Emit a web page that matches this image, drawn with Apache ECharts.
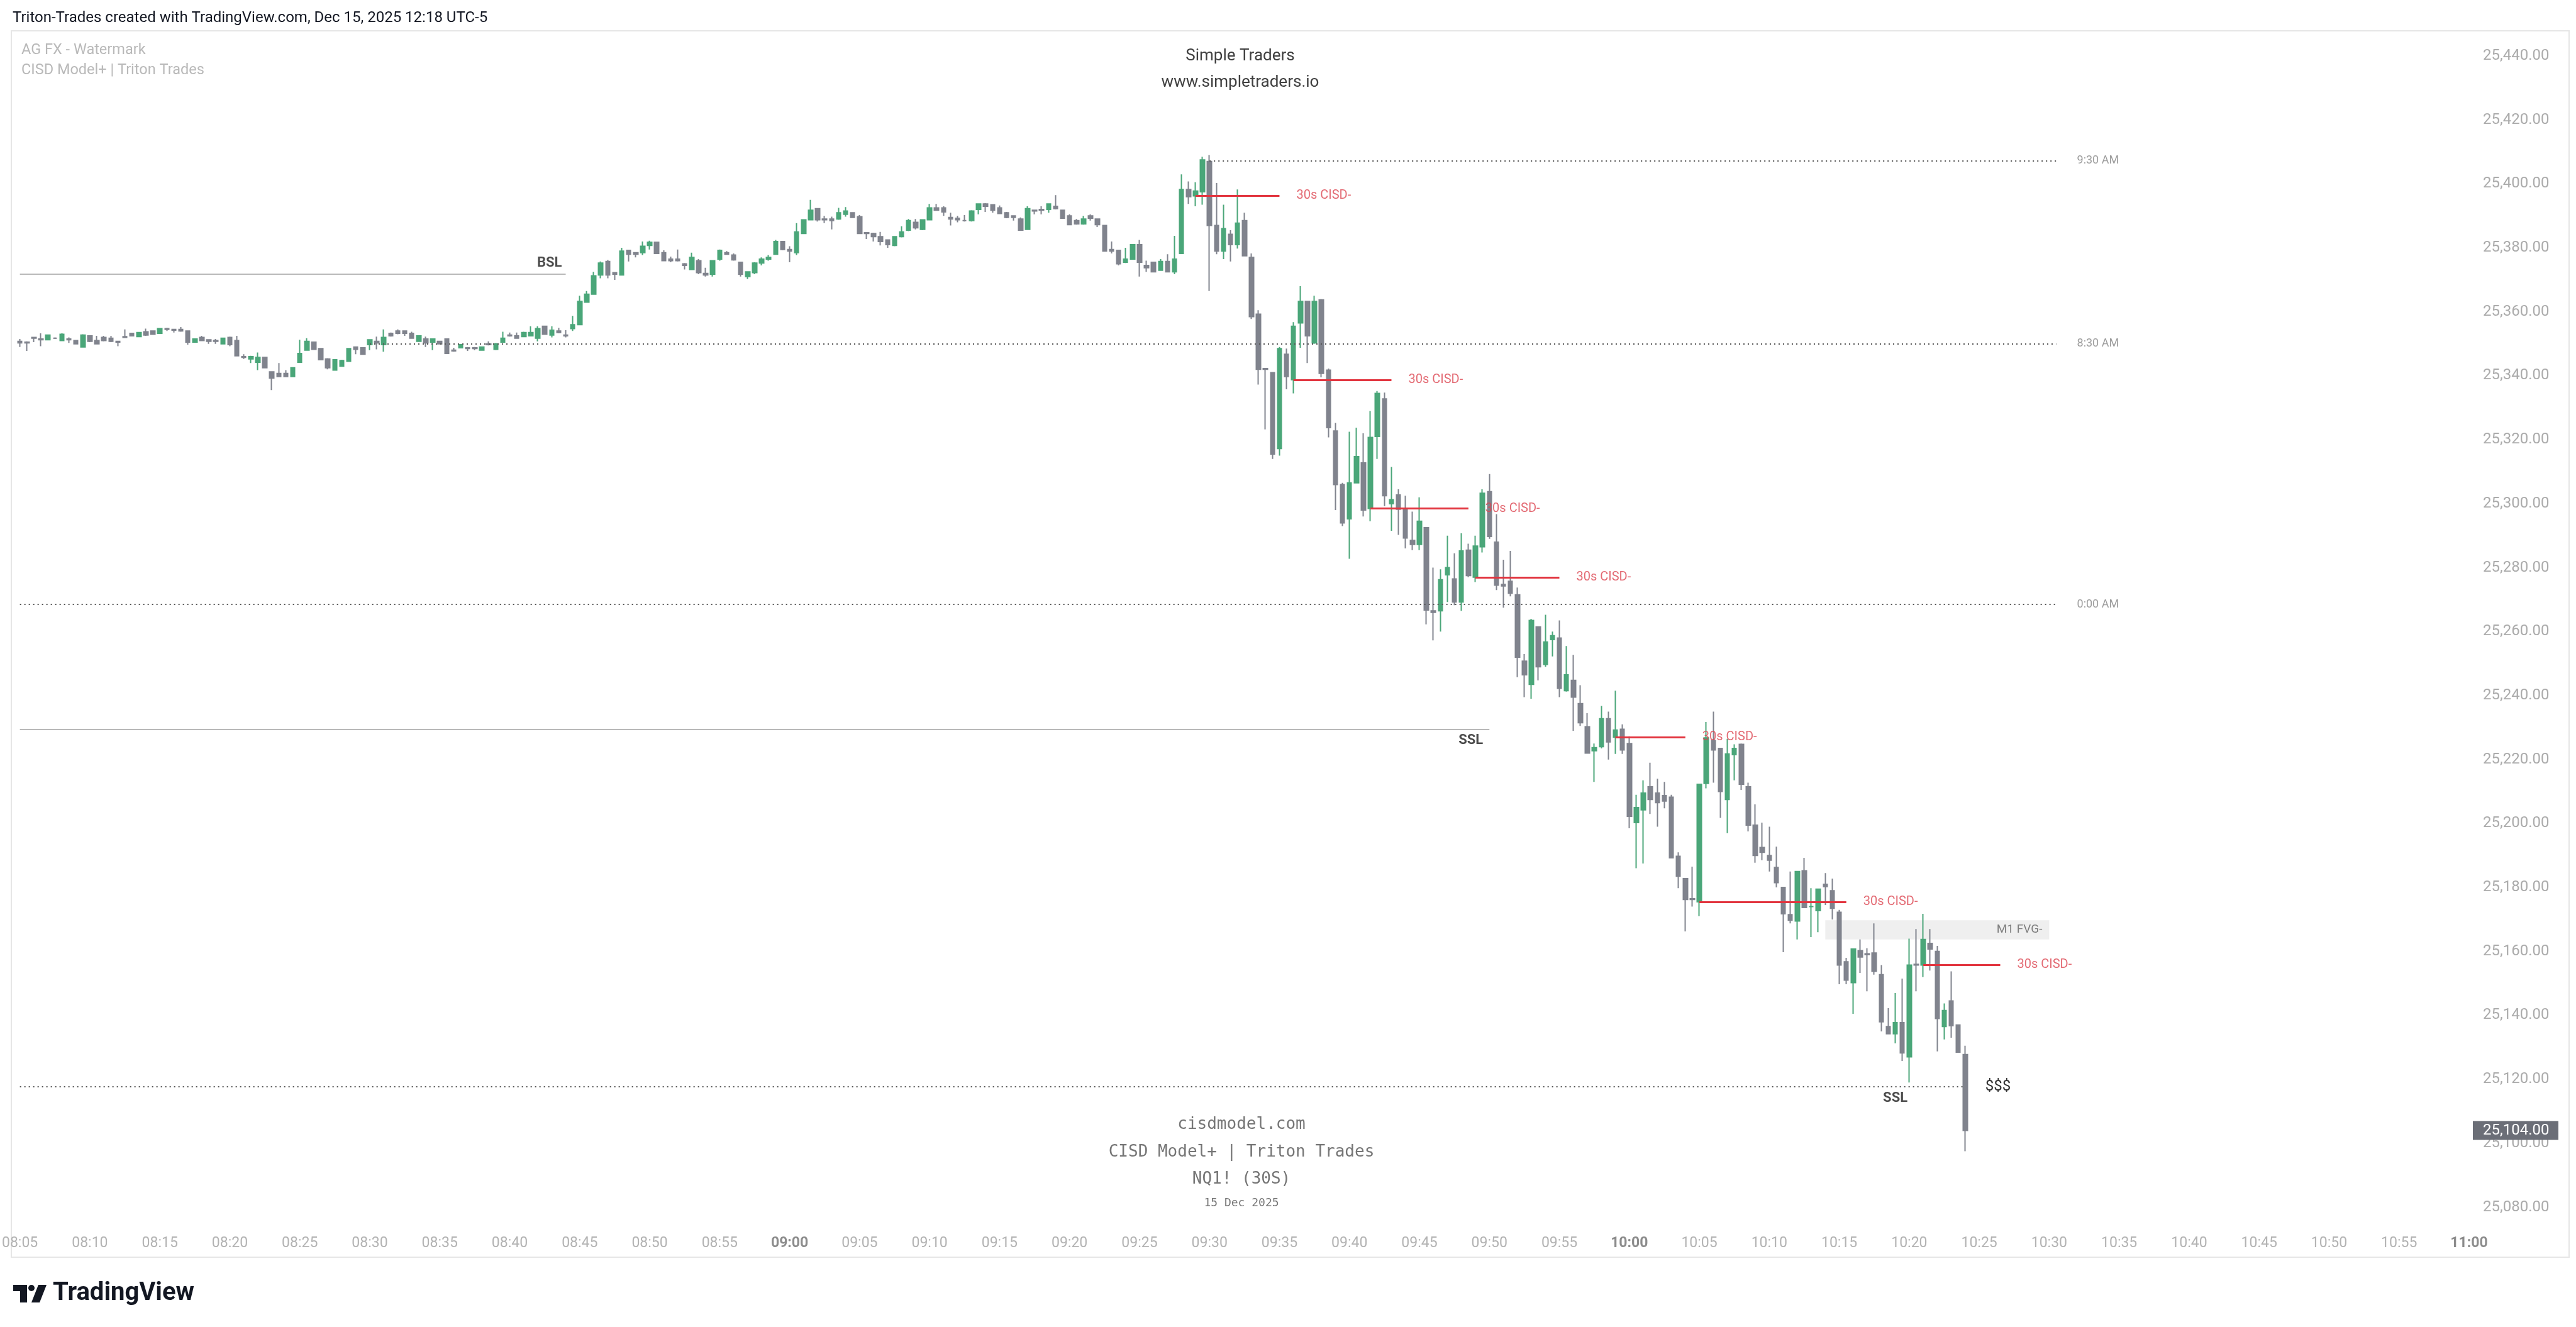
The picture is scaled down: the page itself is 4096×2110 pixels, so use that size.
<!DOCTYPE html>
<html>
<head>
<meta charset="utf-8">
<title>NQ1! (30S) - CISD Model+</title>
<script src="https://cdn.jsdelivr.net/npm/echarts@6/dist/echarts.min.js"></script>
<style>
  html, body { margin: 0; padding: 0; background: #fff; }
  #chart { width: 4096px; height: 2110px; }
</style>
</head>
<body>
<div id="chart"></div>
<script>
// 30s candles, 08:05:00 -> 10:24:00
const opens = [
  25350.75, 25350.5, 25352.0, 25351.5, 25351.25, 25351.75, 25351.0, 25351.5, 25351.0, 25349.0,
  25352.5, 25351.0, 25352.0, 25351.75, 25350.75, 25352.25, 25353.25, 25352.25, 25353.75, 25354.0,
  25353.25, 25354.75, 25354.5, 25354.5, 25354.0, 25350.5, 25352.0, 25351.25, 25351.0, 25350.0,
  25352.0, 25351.0, 25346.0, 25345.25, 25344.25, 25345.75, 25341.25, 25340.75, 25340.75, 25339.75,
  25344.25, 25348.0, 25350.5, 25348.5, 25345.25, 25341.75, 25343.0, 25344.5, 25349.0, 25348.75,
  25349.75, 25350.75, 25349.75, 25353.25, 25354.0, 25354.0, 25353.25, 25350.75, 25351.5, 25350.5,
  25350.75, 25351.5, 25348.0, 25348.75, 25348.75, 25348.75, 25348.0, 25350.0, 25348.25, 25350.5,
  25352.75, 25352.5, 25352.25, 25352.5, 25351.75, 25355.5, 25352.75, 25354.0, 25352.75, 25354.75,
  25356.0, 25363.0, 25365.5, 25371.5, 25375.75, 25372.25, 25371.5, 25379.25, 25378.5, 25378.5,
  25380.75, 25381.75, 25378.5, 25376.5, 25376.5, 25375.0, 25373.25, 25376.0, 25372.0, 25371.75,
  25376.5, 25378.5, 25377.75, 25375.5, 25371.0, 25372.25, 25375.25, 25376.5, 25378.0, 25382.0,
  25379.5, 25378.5, 25384.5, 25388.75, 25392.25, 25389.0, 25389.0, 25389.0, 25390.5, 25391.0,
  25389.75, 25384.75, 25384.5, 25383.5, 25382.5, 25380.75, 25383.5, 25385.5, 25388.0, 25385.75,
  25388.75, 25392.5, 25392.5, 25389.5, 25389.25, 25388.5, 25388.5, 25392.0, 25393.75, 25393.5,
  25392.5, 25391.0, 25390.0, 25389.0, 25385.75, 25391.75, 25392.0, 25392.0, 25393.0, 25391.75,
  25390.0, 25388.5, 25387.5, 25390.0, 25389.0, 25387.0, 25379.5, 25379.25, 25375.5, 25376.5,
  25381.0, 25374.5, 25375.5, 25373.0, 25375.75, 25372.5, 25378.25, 25398.25, 25396.25, 25397.5,
  25407.0, 25387.0, 25379.0, 25384.25, 25381.0, 25388.5, 25377.0, 25359.25, 25342.25, 25341.0,
  25317.25, 25346.75, 25338.75, 25356.5, 25363.25, 25350.25, 25363.75, 25341.75, 25322.75, 25306.0,
  25295.25, 25306.5, 25312.75, 25298.5, 25321.0, 25332.75, 25300.0, 25302.75, 25298.5, 25288.5,
  25287.25, 25292.5, 25266.5, 25266.5, 25277.75, 25276.5, 25269.25, 25285.5, 25277.0, 25286.5,
  25303.75, 25288.0, 25274.75, 25275.75, 25271.5, 25250.75, 25243.5, 25261.5, 25249.75, 25257.5,
  25258.0, 25241.5, 25244.75, 25237.5, 25230.25, 25222.75, 25224.0, 25232.75, 25227.0, 25229.5,
  25225.0, 25200.25, 25204.25, 25211.5, 25209.5, 25208.75, 25208.25, 25189.75, 25182.75, 25176.5,
  25175.5, 25212.5, 25226.0, 25223.5, 25207.5, 25221.5, 25224.75, 25211.5, 25199.5, 25192.5,
  25190.0, 25186.25, 25180.0, 25171.5, 25169.5, 25185.25, 25174.0, 25172.75, 25181.0, 25179.0,
  25172.25, 25156.75, 25150.25, 25160.25, 25159.25, 25159.5, 25152.75, 25136.5, 25134.25, 25137.75,
  25127.0, 25156.0, 25155.75, 25162.5, 25160.0, 25136.5, 25144.5, 25137.0, 25127.75
];
const highs = [
  25351.5, 25350.75, 25352.0, 25353.25, 25352.75, 25352.0, 25353.25, 25352.0, 25351.0, 25353.0,
  25352.5, 25352.5, 25352.5, 25352.5, 25350.75, 25354.5, 25353.25, 25353.5, 25354.75, 25354.0,
  25354.75, 25355.0, 25354.5, 25355.25, 25354.0, 25351.5, 25352.5, 25351.25, 25351.5, 25351.75,
  25352.25, 25352.5, 25346.75, 25346.25, 25347.25, 25345.75, 25341.25, 25344.0, 25341.75, 25342.5,
  25351.25, 25351.75, 25350.5, 25348.5, 25345.5, 25345.0, 25345.0, 25348.5, 25349.0, 25348.75,
  25351.25, 25352.25, 25354.5, 25353.5, 25354.5, 25354.0, 25353.75, 25352.5, 25352.25, 25351.5,
  25350.75, 25351.5, 25348.75, 25349.75, 25349.0, 25349.0, 25349.0, 25350.75, 25350.25, 25353.75,
  25353.5, 25353.5, 25353.75, 25355.5, 25355.5, 25355.5, 25355.5, 25355.0, 25354.25, 25358.75,
  25365.0, 25366.5, 25372.5, 25375.75, 25376.25, 25372.25, 25380.0, 25379.25, 25378.5, 25382.0,
  25382.25, 25381.75, 25379.25, 25377.25, 25379.5, 25375.25, 25378.5, 25376.5, 25373.75, 25376.0,
  25379.5, 25379.0, 25378.25, 25375.5, 25372.5, 25375.5, 25377.0, 25377.75, 25382.5, 25382.0,
  25380.5, 25387.75, 25388.75, 25395.0, 25392.25, 25390.0, 25389.75, 25392.5, 25392.75, 25391.0,
  25390.25, 25384.75, 25384.75, 25385.0, 25382.5, 25383.5, 25386.75, 25389.0, 25389.0, 25388.75,
  25393.75, 25393.75, 25393.0, 25391.0, 25390.0, 25390.25, 25391.75, 25393.75, 25394.0, 25393.5,
  25393.25, 25391.25, 25390.0, 25389.5, 25393.0, 25391.75, 25393.0, 25393.75, 25396.5, 25391.75,
  25390.5, 25389.0, 25390.0, 25390.5, 25389.0, 25387.0, 25382.0, 25379.25, 25380.0, 25381.0,
  25382.5, 25376.0, 25375.5, 25376.5, 25378.0, 25383.75, 25403.0, 25400.75, 25400.5, 25408.5,
  25409.0, 25400.25, 25393.5, 25385.5, 25398.25, 25391.0, 25378.25, 25360.5, 25342.25, 25341.0,
  25349.0, 25348.5, 25356.75, 25368.0, 25363.25, 25365.0, 25364.0, 25342.25, 25325.25, 25306.5,
  25322.5, 25323.75, 25322.0, 25329.0, 25335.25, 25334.75, 25311.5, 25304.5, 25302.5, 25297.5,
  25302.0, 25292.5, 25280.0, 25279.5, 25290.0, 25284.5, 25290.75, 25287.5, 25290.0, 25304.5,
  25309.25, 25296.75, 25282.5, 25285.25, 25273.75, 25253.0, 25264.0, 25261.5, 25265.25, 25260.0,
  25263.5, 25255.5, 25252.75, 25243.25, 25234.5, 25225.0, 25236.75, 25235.0, 25241.5, 25231.0,
  25227.25, 25209.0, 25213.5, 25219.0, 25214.0, 25213.0, 25209.0, 25191.0, 25182.75, 25186.5,
  25212.25, 25231.75, 25235.0, 25223.5, 25226.5, 25224.75, 25225.0, 25212.75, 25206.0, 25200.25,
  25199.0, 25192.75, 25180.0, 25185.0, 25185.0, 25189.25, 25179.75, 25179.5, 25184.5, 25182.75,
  25173.0, 25158.0, 25160.75, 25163.75, 25161.0, 25168.75, 25155.75, 25142.25, 25147.0, 25151.5,
  25164.0, 25167.0, 25171.75, 25167.0, 25161.75, 25143.75, 25153.75, 25137.0, 25130.5
];
const lows = [
  25349.0, 25347.75, 25350.5, 25349.25, 25351.25, 25351.5, 25351.0, 25350.25, 25350.0, 25349.0,
  25350.5, 25350.0, 25350.75, 25350.5, 25349.25, 25352.0, 25352.5, 25352.25, 25352.5, 25353.0,
  25353.25, 25354.0, 25353.5, 25353.75, 25349.75, 25350.5, 25351.0, 25350.0, 25350.0, 25350.0,
  25349.25, 25346.25, 25345.25, 25344.0, 25341.75, 25342.5, 25335.5, 25339.75, 25339.75, 25339.75,
  25344.25, 25348.0, 25348.25, 25345.0, 25342.0, 25341.75, 25343.0, 25344.5, 25346.75, 25346.75,
  25348.0, 25348.25, 25347.5, 25352.25, 25353.0, 25352.5, 25351.75, 25350.75, 25349.0, 25348.0,
  25350.0, 25347.0, 25347.5, 25348.75, 25347.75, 25348.0, 25348.0, 25349.5, 25348.0, 25350.5,
  25352.25, 25351.75, 25352.25, 25352.5, 25350.75, 25353.0, 25352.0, 25353.25, 25352.0, 25354.0,
  25356.0, 25363.0, 25365.5, 25370.5, 25370.5, 25370.0, 25371.5, 25375.75, 25377.0, 25377.75,
  25379.5, 25378.25, 25376.0, 25375.5, 25375.75, 25373.25, 25373.25, 25371.75, 25371.0, 25371.0,
  25376.0, 25378.0, 25376.0, 25371.0, 25370.25, 25371.75, 25374.5, 25376.0, 25378.0, 25379.25,
  25375.5, 25377.75, 25384.5, 25388.75, 25388.25, 25387.75, 25385.75, 25388.75, 25389.75, 25389.5,
  25384.5, 25382.75, 25382.0, 25380.75, 25380.0, 25380.5, 25383.25, 25385.25, 25385.75, 25385.5,
  25388.75, 25391.75, 25390.0, 25387.0, 25388.0, 25388.25, 25388.25, 25390.5, 25391.25, 25391.0,
  25390.75, 25389.25, 25388.5, 25385.5, 25385.75, 25390.5, 25390.5, 25391.0, 25392.0, 25389.25,
  25387.25, 25387.25, 25387.25, 25388.5, 25386.5, 25379.0, 25378.25, 25374.5, 25375.25, 25376.5,
  25371.0, 25372.5, 25372.5, 25373.0, 25372.5, 25371.75, 25378.25, 25393.75, 25393.0, 25393.5,
  25366.5, 25378.0, 25376.5, 25375.75, 25379.75, 25377.5, 25357.75, 25337.25, 25323.25, 25314.0,
  25315.0, 25335.75, 25334.5, 25348.75, 25344.0, 25350.0, 25339.5, 25320.75, 25298.0, 25293.0,
  25282.75, 25306.5, 25296.0, 25294.5, 25314.0, 25299.25, 25291.5, 25290.25, 25286.0, 25285.5,
  25285.5, 25262.25, 25257.25, 25260.0, 25269.25, 25268.25, 25266.5, 25277.0, 25275.5, 25284.75,
  25289.0, 25273.0, 25267.5, 25271.0, 25245.75, 25239.5, 25239.0, 25244.75, 25249.0, 25252.25,
  25239.5, 25241.25, 25229.0, 25230.5, 25222.0, 25213.0, 25223.5, 25220.0, 25221.75, 25221.75,
  25198.5, 25186.0, 25187.5, 25203.0, 25199.0, 25204.75, 25189.25, 25179.75, 25166.25, 25174.0,
  25171.0, 25211.0, 25212.75, 25201.75, 25197.0, 25213.5, 25210.5, 25197.5, 25187.75, 25188.5,
  25185.0, 25180.0, 25159.75, 25168.75, 25163.75, 25173.75, 25164.5, 25166.0, 25174.5, 25170.0,
  25149.75, 25149.75, 25140.5, 25153.25, 25147.5, 25152.75, 25135.0, 25134.25, 25131.25, 25125.75,
  25119.0, 25147.5, 25152.0, 25154.0, 25128.75, 25132.5, 25133.0, 25128.5, 25097.5
];
const closes = [
  25350.25, 25350.25, 25351.75, 25351.25, 25352.75, 25351.75, 25353.0, 25351.25, 25350.0, 25352.75,
  25350.75, 25350.0, 25351.0, 25350.75, 25350.5, 25352.0, 25352.5, 25353.5, 25352.75, 25353.0,
  25354.75, 25354.5, 25354.25, 25354.0, 25350.5, 25351.5, 25351.0, 25350.75, 25350.75, 25351.75,
  25349.75, 25346.25, 25345.75, 25346.0, 25345.75, 25342.5, 25339.25, 25339.75, 25339.75, 25342.5,
  25347.0, 25350.75, 25348.25, 25345.0, 25342.5, 25345.0, 25344.75, 25348.5, 25348.25, 25346.75,
  25351.25, 25350.25, 25352.0, 25352.5, 25353.25, 25353.25, 25351.75, 25352.5, 25350.25, 25351.5,
  25350.0, 25347.0, 25347.75, 25349.75, 25348.5, 25348.5, 25349.0, 25349.75, 25350.0, 25351.75,
  25352.5, 25351.75, 25353.5, 25353.5, 25354.75, 25353.0, 25354.25, 25353.5, 25352.5, 25356.0,
  25363.25, 25365.5, 25371.25, 25375.25, 25371.5, 25371.75, 25379.0, 25378.0, 25378.0, 25380.5,
  25381.75, 25378.25, 25376.0, 25376.0, 25376.0, 25374.5, 25377.0, 25372.25, 25371.5, 25376.0,
  25379.25, 25378.0, 25376.25, 25371.75, 25372.5, 25375.25, 25376.5, 25377.0, 25382.0, 25379.5,
  25379.0, 25385.0, 25388.75, 25391.75, 25388.75, 25388.75, 25388.5, 25391.0, 25391.5, 25389.5,
  25384.5, 25384.5, 25383.5, 25382.0, 25381.0, 25383.5, 25385.0, 25388.5, 25386.25, 25388.75,
  25392.5, 25391.75, 25391.25, 25389.0, 25388.75, 25388.5, 25391.5, 25393.75, 25393.0, 25391.75,
  25390.75, 25389.5, 25389.5, 25385.5, 25392.25, 25391.5, 25391.75, 25393.75, 25392.25, 25389.25,
  25387.25, 25387.5, 25389.0, 25389.25, 25387.25, 25379.0, 25379.0, 25375.0, 25376.5, 25381.0,
  25375.5, 25373.75, 25372.5, 25375.75, 25372.5, 25376.5, 25398.25, 25396.0, 25397.75, 25407.5,
  25387.0, 25379.0, 25386.0, 25381.0, 25387.75, 25377.5, 25358.5, 25342.0, 25342.0, 25315.5,
  25348.5, 25339.75, 25355.5, 25363.25, 25352.5, 25363.25, 25340.75, 25323.75, 25306.0, 25294.0,
  25306.5, 25314.75, 25298.0, 25320.75, 25334.5, 25302.5, 25301.25, 25298.25, 25289.25, 25287.25,
  25294.5, 25266.75, 25266.0, 25276.25, 25280.0, 25269.25, 25285.25, 25277.5, 25286.75, 25303.25,
  25289.75, 25274.5, 25274.25, 25272.0, 25252.0, 25246.5, 25263.5, 25249.0, 25256.75, 25258.75,
  25242.25, 25246.5, 25239.5, 25231.5, 25222.0, 25223.75, 25232.75, 25225.5, 25229.25, 25223.0,
  25202.25, 25205.0, 25209.5, 25207.5, 25206.5, 25207.0, 25189.25, 25183.5, 25176.25, 25176.25,
  25212.25, 25226.75, 25223.0, 25210.0, 25221.75, 25223.5, 25212.25, 25199.5, 25190.0, 25191.0,
  25188.5, 25181.5, 25171.75, 25169.75, 25185.0, 25173.75, 25174.0, 25179.5, 25180.25, 25173.5,
  25155.75, 25151.0, 25160.75, 25158.25, 25159.0, 25153.75, 25138.0, 25134.25, 25137.75, 25128.25,
  25155.75, 25155.75, 25163.75, 25160.75, 25139.0, 25141.5, 25136.75, 25128.5, 25104.0
];

// session / time levels (dotted)
const levelLabels = ['9:30 AM', '8:30 AM', '0:00 AM'];
const levelPrices = [25407.25, 25350.0, 25268.5];
const levelStarts = ['09:30:00', '08:30:00', '08:05:00'];
const levelEnd = '10:30:30';

// liquidity lines
const bslPrice = 25371.75, bslEnd = '08:44:00';
const sslPrice = 25229.5, sslEnd = '09:50:00';
const sslLowPrice = 25117.75, sslLowEnd = '10:24:00';

// liquidity tags
const noteTexts = ['BSL', 'SSL', 'SSL'];
const noteTimes = [bslEnd, sslEnd, '10:19:00'];
const notePrices = [bslPrice, sslPrice, sslLowPrice];

// 30s CISD- levels
const cisdStarts = ['09:29:00', '09:36:00', '09:41:30', '09:49:00', '09:59:00', '10:05:00', '10:21:00'];
const cisdEnds = ['09:35:00', '09:43:00', '09:48:30', '09:55:00', '10:04:00', '10:15:30', '10:26:30'];
const cisdLevels = [25396.25, 25338.75, 25298.5, 25277.0, 25227.0, 25175.5, 25155.75];

// M1 FVG-
const fvgTop = 25169.75, fvgBottom = 25163.75, fvgStart = '10:14:00', fvgEnd = '10:30:00';

const lastPrice = closes[closes.length - 1];

const green = '#4aa679';
const grey = '#80838d';
const red = '#e2353f';

const pad = n => String(n).padStart(2, '0');
const times = [];
for (let s = (8 * 60 + 5) * 60; s <= 11 * 3600; s += 30) {
  times.push(pad(Math.floor(s / 3600)) + ':' + pad(Math.floor(s / 60) % 60) + ':' + pad(s % 60));
}

const candles = opens.map((o, i) => [o, closes[i], lows[i], highs[i]]);

const chart = echarts.init(document.getElementById('chart'));

const txt = (text, x, y, size, color, extra) => ({
  type: 'text', z: 50, silent: true,
  style: Object.assign({
    text, x, y, fontSize: size, fill: color, fontFamily: 'Roboto, sans-serif',
    align: 'left', textAlign: 'left', verticalAlign: 'middle', textVerticalAlign: 'middle'
  }, extra || {})
});
const mid = { align: 'center', textAlign: 'center' };
const mono = Object.assign({ fontFamily: '"DejaVu Sans Mono", monospace' }, mid);

const graphics = [
  { type: 'rect', z: 0, silent: true, shape: { x: 18, y: 49, width: 4067, height: 1950 },
    style: { fill: null, stroke: '#e6e6e6', lineWidth: 2 } },
  txt('Triton-Trades created with TradingView.com, Dec 15, 2025 12:18 UTC-5', 20, 29, 24, '#131722'),
  txt('AG FX - Watermark', 34, 80, 23.5, '#b9b9b9'),
  txt('CISD Model+ | Triton Trades', 34, 112, 23.5, '#b9b9b9'),
  txt('Simple Traders', 1972, 89, 26, '#404040', mid),
  txt('www.simpletraders.io', 1972, 131, 26, '#404040', mid),
  txt('cisdmodel.com', 1974, 1788, 26, '#767676', mono),
  txt('CISD Model+ | Triton Trades', 1974, 1832, 26, '#767676', mono),
  txt('NQ1! (30S)', 1974, 1875, 26, '#767676', mono),
  txt('15 Dec 2025', 1974, 1913, 18, '#767676', mono),
  // TradingView logo
  { type: 'polygon', silent: true, shape: { points: [[21, 2043], [43, 2043], [43, 2071], [32, 2071], [32, 2053], [21, 2053]] },
    style: { fill: '#131722' } },
  { type: 'circle', silent: true, shape: { cx: 50, cy: 2048, r: 5 }, style: { fill: '#131722' } },
  { type: 'polygon', silent: true, shape: { points: [[61, 2043], [74, 2043], [63, 2071], [50, 2071]] },
    style: { fill: '#131722' } },
  txt('TradingView', 84, 2057, 40, '#131722', { fontWeight: 'bold' })
];

const levelLines = levelLabels.map((name, k) => [
  { coord: [levelStarts[k], levelPrices[k]], label: { formatter: name } },
  { coord: [levelEnd, levelPrices[k]] }
]);
levelLines.push([
  { coord: [times[0], sslLowPrice],
    label: { formatter: '$$$', distance: 32, color: '#333', fontSize: 24 } },
  { coord: [sslLowEnd, sslLowPrice] }
]);

const cisdLines = cisdLevels.map((lv, k) => [
  { coord: [cisdStarts[k], lv] },
  { coord: [cisdEnds[k], lv] }
]);

// where each tag sits relative to its anchor
const noteLabel = [
  { position: 'left', distance: 6, offset: [0, -18] },
  { position: 'left', distance: 10, offset: [0, 18] },
  { position: 'bottom', distance: 8 }
];
const notes = noteTexts.map((t, k) => ({
  value: [noteTimes[k], notePrices[k]],
  label: Object.assign({ formatter: t }, noteLabel[k])
}));

const option = {
  animation: false,
  backgroundColor: '#ffffff',
  textStyle: { fontFamily: 'Roboto, sans-serif' },
  // plot top edge = y 0, bottom edge at 25,060
  grid: { left: 18, right: 170, top: 0, height: 2021.3 },
  xAxis: {
    type: 'category',
    data: times,
    boundaryGap: false,
    axisLine: { show: false },
    axisTick: { show: false },
    splitLine: { show: false },
    axisLabel: {
      margin: -56,
      fontSize: 23,
      color: '#b3b3b3',
      showMinLabel: true,
      showMaxLabel: true,
      interval: (idx, val) => val.endsWith(':00') && (+val.slice(3, 5)) % 5 === 0,
      formatter: val => {
        const hm = val.slice(0, 5);
        return hm.endsWith(':00') ? '{b|' + hm + '}' : hm;
      },
      rich: { b: { fontSize: 23, fontWeight: 'bold', color: '#8c8c8c' } }
    }
  },
  yAxis: {
    type: 'value',
    position: 'right',
    min: 25060,
    max: 25457.5,
    interval: 20,
    axisLine: { show: false },
    axisTick: { show: false },
    splitLine: { show: false },
    axisLabel: {
      margin: 22,
      fontSize: 24,
      color: '#ababab',
      formatter: v => (v < 25080 || v > 25440) ? '' :
        v.toLocaleString('en-US', { minimumFractionDigits: 2, maximumFractionDigits: 2 })
    }
  },
  graphic: { elements: graphics },
  series: [
    {
      name: 'fvg', type: 'line', data: [], z: 1, silent: true,
      markArea: {
        silent: true,
        itemStyle: { color: '#efefef' },
        label: { show: true, position: 'insideRight', distance: 11, color: '#7e7e7e', fontSize: 19 },
        data: [[{ name: 'M1 FVG-', coord: [fvgStart, fvgTop] }, { coord: [fvgEnd, fvgBottom] }]]
      }
    },
    {
      name: 'levels', type: 'line', data: [], z: 2, silent: true,
      markLine: {
        silent: true, symbol: ['none', 'none'],
        lineStyle: { color: '#555', width: 2, type: [2, 5] },
        label: { show: true, position: 'end', distance: 33, color: '#9c9c9c', fontSize: 18 },
        emphasis: { disabled: true },
        data: levelLines
      }
    },
    {
      name: 'liquidity', type: 'line', data: [], z: 2, silent: true,
      markLine: {
        silent: true, symbol: ['none', 'none'],
        lineStyle: { color: '#b9b9b9', width: 2, type: 'solid' },
        label: { show: false },
        emphasis: { disabled: true },
        data: [
          [{ coord: [times[0], bslPrice] }, { coord: [bslEnd, bslPrice] }],
          [{ coord: [times[0], sslPrice] }, { coord: [sslEnd, sslPrice] }]
        ]
      }
    },
    {
      name: 'NQ1!', type: 'candlestick', data: candles, z: 3,
      barWidth: 7,
      itemStyle: { color: green, color0: grey, borderColor: green, borderColor0: grey, borderWidth: 2 }
    },
    {
      name: 'cisd', type: 'line', data: [], z: 4, silent: true,
      markLine: {
        silent: true, symbol: ['none', 'none'],
        lineStyle: { color: red, width: 3, type: 'solid' },
        label: { show: false },
        emphasis: { disabled: true },
        data: cisdLines
      }
    },
    {
      name: 'cisdTags', type: 'scatter', z: 4, silent: true, symbolSize: 0,
      data: cisdLevels.map((lv, k) => [cisdEnds[k], lv]),
      label: { show: true, position: 'right', distance: 27, formatter: '30s CISD-', color: '#dc4550', fontSize: 20 }
    },
    {
      name: 'notes', type: 'scatter', z: 4, silent: true, symbolSize: 0,
      data: notes,
      label: { show: true, fontSize: 22, fontWeight: 'bold', color: '#1e1e1e' }
    }
  ]
};

chart.setOption(option);

// last price tag on the price scale
const yLast = chart.convertToPixel({ yAxisIndex: 0 }, lastPrice);
const tagText = txt(lastPrice.toLocaleString('en-US', { minimumFractionDigits: 2 }), 3948, yLast, 24, '#ffffff');
tagText.z = 61;
graphics.push(
  { type: 'rect', z: 60, silent: true, shape: { x: 3932, y: yLast - 15, width: 136, height: 30 },
    style: { fill: '#6b6e77' } },
  tagText
);
chart.setOption({ graphic: { elements: graphics } });
</script>
</body>
</html>
